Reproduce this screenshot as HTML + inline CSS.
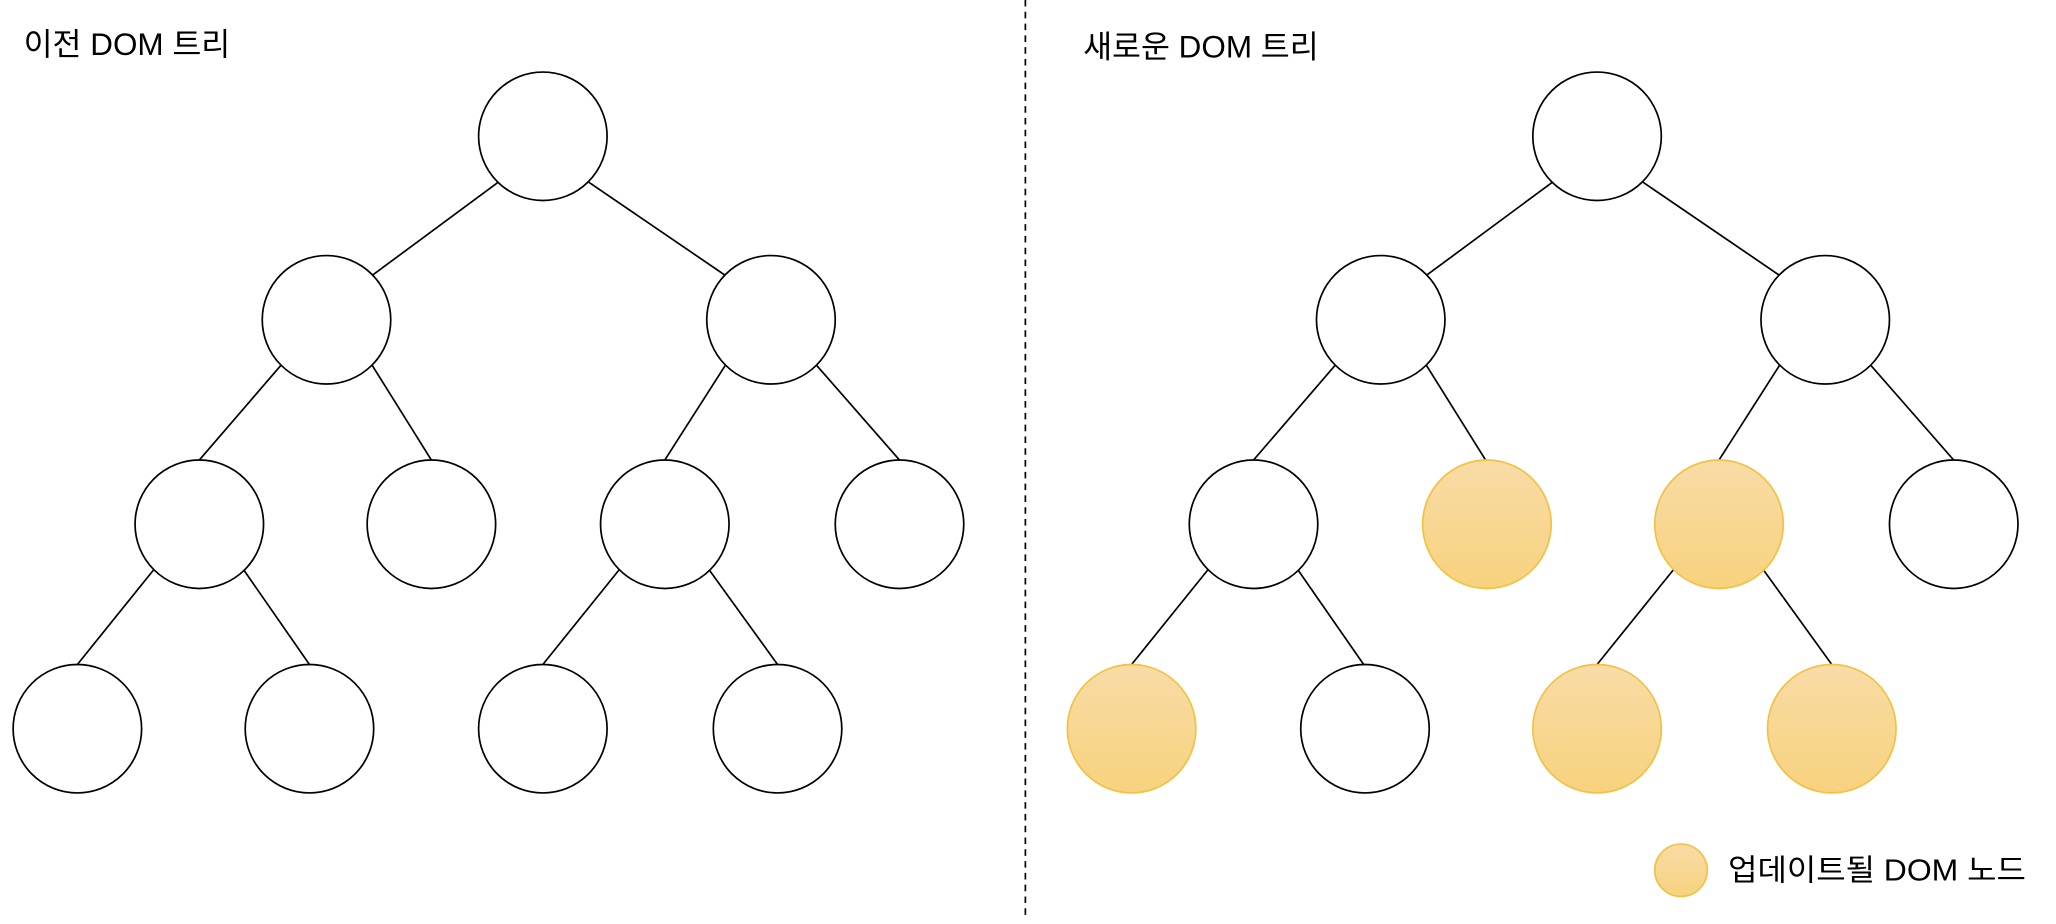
<!DOCTYPE html>
<html><head><meta charset="utf-8"><style>
html,body{margin:0;padding:0;background:#fff;width:2056px;height:924px;overflow:hidden}
svg{display:block}
text{font-family:"Liberation Sans","Noto Sans CJK KR","NanumGothic",sans-serif;fill:#000}
</style></head><body>
<svg width="2056" height="924" viewBox="0 0 1568 705" preserveAspectRatio="none" xmlns="http://www.w3.org/2000/svg">
<defs><linearGradient id="g" x1="0" y1="0" x2="0" y2="1"><stop offset="0" stop-color="#f8dca6"/><stop offset="1" stop-color="#f7d27e"/></linearGradient></defs>
<rect width="1568" height="705" fill="#fff"/>
<line x1="782" y1="0" x2="782" y2="698" stroke="#000" stroke-width="1.3" stroke-dasharray="5,4"/>
<text x="18" y="42" font-size="24">이전 DOM 트리</text>
<text x="826" y="44" font-size="24">새로운 DOM 트리</text>
<g stroke="#000" stroke-width="1.3" fill="none" id="L">
<line x1="380" y1="139" x2="284" y2="210"/>
<line x1="449" y1="139" x2="553" y2="210"/>
<line x1="214" y1="279" x2="152" y2="351"/>
<line x1="284" y1="279" x2="329" y2="351"/>
<line x1="553" y1="279" x2="507" y2="351"/>
<line x1="623" y1="279" x2="686" y2="351"/>
<line x1="117" y1="435" x2="59" y2="507"/>
<line x1="186" y1="435" x2="236" y2="507"/>
<line x1="472" y1="435" x2="414" y2="507"/>
<line x1="541" y1="435" x2="593" y2="507"/>
</g>
<use href="#L" x="804"/>
<g stroke="#000" stroke-width="1.3" fill="#fff">
<circle cx="414" cy="104" r="49"/><circle cx="249" cy="244" r="49"/><circle cx="588" cy="244" r="49"/>
<circle cx="152" cy="400" r="49"/><circle cx="329" cy="400" r="49"/><circle cx="507" cy="400" r="49"/><circle cx="686" cy="400" r="49"/>
<circle cx="59" cy="556" r="49"/><circle cx="236" cy="556" r="49"/><circle cx="414" cy="556" r="49"/><circle cx="593" cy="556" r="49"/>
<circle cx="1218" cy="104" r="49"/><circle cx="1053" cy="244" r="49"/><circle cx="1392" cy="244" r="49"/>
<circle cx="956" cy="400" r="49"/><circle cx="1490" cy="400" r="49"/><circle cx="1041" cy="556" r="49"/>
</g>
<g stroke="#f2c146" stroke-width="1.3" fill="url(#g)">
<circle cx="1134" cy="400" r="49"/><circle cx="1311" cy="400" r="49"/>
<circle cx="863" cy="556" r="49"/><circle cx="1218" cy="556" r="49"/><circle cx="1397" cy="556" r="49"/>
<circle cx="1282" cy="664" r="20"/>
</g>
<text x="1318" y="672" font-size="23" textLength="227" lengthAdjust="spacingAndGlyphs">업데이트될 DOM 노드</text>
</svg>
</body></html>
